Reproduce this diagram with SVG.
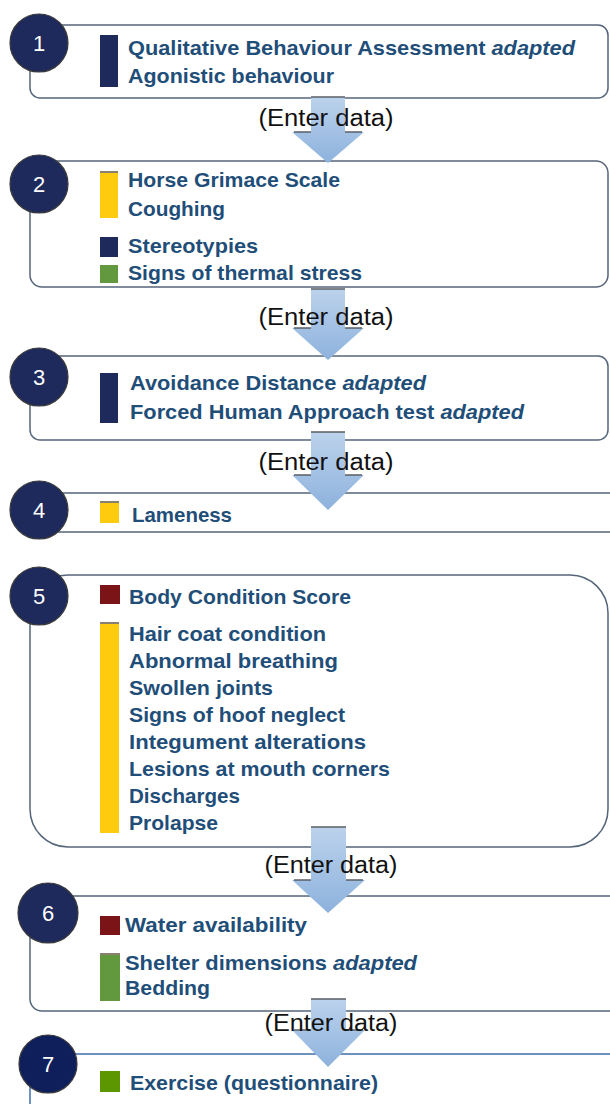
<svg xmlns="http://www.w3.org/2000/svg" width="610" height="1104" viewBox="0 0 610 1104">
<defs>
<linearGradient id="ag" x1="0" y1="0" x2="0" y2="1">
<stop offset="0" stop-color="#bcd2ec"/>
<stop offset="1" stop-color="#8db2dd"/>
</linearGradient>
<style>
.box{fill:#fff;stroke:#56667a;stroke-width:1.5}
.circ{fill:#1e2a5c;stroke:#3a3a3a;stroke-width:1.2}
.num{font-family:"Liberation Sans",Arial,sans-serif;font-size:22px;fill:#fff;text-anchor:middle}
.t{font-family:"Liberation Sans",Arial,sans-serif;font-size:21px;font-weight:bold;fill:#1f4e79}
.it{font-style:italic}
.ed{font-family:"Liberation Sans",Arial,sans-serif;font-size:23px;fill:#111;text-anchor:middle}
.arr{fill:url(#ag)}
.edge{fill:none;stroke:#5a5f66;stroke-width:1.5}
.navy{fill:#1e2a5c}
.yel{fill:#fecb0f}
.grn{fill:#62993f}
.mar{fill:#7b1417}
.olv{fill:#5c9600}
.cap{fill:#8a8070}
</style>
</defs>

<g id="node1">
<rect class="box" x="30" y="25" width="578" height="73" rx="10"/>
<circle class="circ" cx="39" cy="43" r="29"/>
<text class="num" x="39" y="51">1</text>
<rect class="navy" x="100" y="35" width="18" height="52"/>
<text class="t" x="128" y="55" textLength="447" lengthAdjust="spacingAndGlyphs">Qualitative Behaviour Assessment <tspan class="it">adapted</tspan></text>
<text class="t" x="128" y="83" textLength="206" lengthAdjust="spacingAndGlyphs">Agonistic behaviour</text>
</g>

<g id="node2">
<rect class="box" x="30" y="161" width="578" height="126" rx="12"/>
<circle class="circ" cx="39" cy="184" r="29"/>
<text class="num" x="39" y="192">2</text>
<rect class="yel" x="100" y="171" width="18" height="47"/>
<rect class="cap" x="100" y="171" width="18" height="2"/>
<rect class="navy" x="100" y="237" width="18" height="20"/>
<rect class="grn" x="100" y="265" width="18" height="18"/>
<text class="t" x="128" y="187" textLength="212" lengthAdjust="spacingAndGlyphs">Horse Grimace Scale</text>
<text class="t" x="128" y="216" textLength="97" lengthAdjust="spacingAndGlyphs">Coughing</text>
<text class="t" x="128" y="253" textLength="130" lengthAdjust="spacingAndGlyphs">Stereotypies</text>
<text class="t" x="128" y="280" textLength="234" lengthAdjust="spacingAndGlyphs">Signs of thermal stress</text>
</g>

<g id="node3">
<rect class="box" x="30" y="356" width="578" height="84" rx="10"/>
<circle class="circ" cx="39" cy="377" r="29"/>
<text class="num" x="39" y="385">3</text>
<rect class="navy" x="100" y="373" width="18" height="50"/>
<text class="t" x="130" y="390" textLength="296" lengthAdjust="spacingAndGlyphs">Avoidance Distance <tspan class="it">adapted</tspan></text>
<text class="t" x="130" y="419" textLength="394" lengthAdjust="spacingAndGlyphs">Forced Human Approach test <tspan class="it">adapted</tspan></text>
</g>

<g id="node4">
<rect class="box" x="30" y="493" width="600" height="39" rx="8"/>
<circle class="circ" cx="39" cy="510" r="29"/>
<text class="num" x="39" y="518">4</text>
<rect class="yel" x="100" y="501" width="19" height="22"/>
<rect class="cap" x="100" y="501" width="19" height="2"/>
<text class="t" x="132" y="522" textLength="100" lengthAdjust="spacingAndGlyphs">Lameness</text>
</g>

<g id="node5">
<rect class="box" x="30" y="575" width="578" height="272" rx="38"/>
<circle class="circ" cx="39" cy="596" r="29"/>
<text class="num" x="39" y="604">5</text>
<rect class="mar" x="100" y="585" width="20" height="19"/>
<rect class="yel" x="100" y="622" width="19" height="211"/>
<rect class="cap" x="100" y="622" width="19" height="2"/>
<text class="t" x="129" y="604" textLength="222" lengthAdjust="spacingAndGlyphs">Body Condition Score</text>
<text class="t" x="129" y="641" textLength="197" lengthAdjust="spacingAndGlyphs">Hair coat condition</text>
<text class="t" x="129" y="668" textLength="209" lengthAdjust="spacingAndGlyphs">Abnormal breathing</text>
<text class="t" x="129" y="695" textLength="144" lengthAdjust="spacingAndGlyphs">Swollen joints</text>
<text class="t" x="129" y="722" textLength="216" lengthAdjust="spacingAndGlyphs">Signs of hoof neglect</text>
<text class="t" x="129" y="749" textLength="237" lengthAdjust="spacingAndGlyphs">Integument alterations</text>
<text class="t" x="129" y="776" textLength="261" lengthAdjust="spacingAndGlyphs">Lesions at mouth corners</text>
<text class="t" x="129" y="803" textLength="111" lengthAdjust="spacingAndGlyphs">Discharges</text>
<text class="t" x="129" y="830" textLength="89" lengthAdjust="spacingAndGlyphs">Prolapse</text>
</g>

<g id="node6">
<rect class="box" x="30" y="896" width="600" height="115" rx="12"/>
<circle class="circ" cx="48" cy="913" r="30"/>
<text class="num" x="48" y="921">6</text>
<rect class="mar" x="100" y="916" width="20" height="19"/>
<rect class="grn" x="100" y="953" width="20" height="48"/>
<rect class="cap" x="100" y="953" width="20" height="2"/>
<text class="t" x="125" y="932" textLength="182" lengthAdjust="spacingAndGlyphs">Water availability</text>
<text class="t" x="125" y="970" textLength="292" lengthAdjust="spacingAndGlyphs">Shelter dimensions <tspan class="it">adapted</tspan></text>
<text class="t" x="125" y="995" textLength="85" lengthAdjust="spacingAndGlyphs">Bedding</text>
</g>

<g id="node7">
<rect class="box" x="30" y="1054" width="600" height="80" rx="12" style="stroke:#3f6fa8"/>
<circle class="circ" cx="48" cy="1064" r="29" style="fill:#0f1f5c"/>
<text class="num" x="48" y="1072">7</text>
<rect class="olv" x="100" y="1071" width="20" height="21"/>
<text class="t" x="130" y="1090" textLength="248" lengthAdjust="spacingAndGlyphs">Exercise (questionnaire)</text>
</g>

<g id="connectors">
<path class="arr" d="M311,97 H345 V132 H364 L328,163 L292,132 H311 Z"/>
<path class="edge" d="M311,97 H345 M294,132 H311 M345,132 H362"/>
<text class="ed" x="326" y="126" textLength="135" lengthAdjust="spacingAndGlyphs">(Enter data)</text>

<path class="arr" d="M311,289 H345 V328 H364 L328,360 L292,328 H311 Z"/>
<path class="edge" d="M311,289 H345 M294,328 H311 M345,328 H362"/>
<text class="ed" x="326" y="325" textLength="135" lengthAdjust="spacingAndGlyphs">(Enter data)</text>

<path class="arr" d="M311,432 H345 V475 H364 L328,510 L292,475 H311 Z"/>
<path class="edge" d="M311,432 H345 M294,475 H311 M345,475 H362"/>
<text class="ed" x="326" y="470" textLength="135" lengthAdjust="spacingAndGlyphs">(Enter data)</text>

<path class="arr" d="M311,827 H346 V880 H365 L328,913 L292,880 H311 Z"/>
<path class="edge" d="M311,827 H346 M294,880 H311 M346,880 H363"/>
<text class="ed" x="331" y="873" textLength="133" lengthAdjust="spacingAndGlyphs">(Enter data)</text>

<path class="arr" d="M311,999 H346 V1030 H365 L328,1067 L292,1030 H311 Z"/>
<path class="edge" d="M311,999 H346 M294,1030 H311 M346,1030 H363"/>
<text class="ed" x="331" y="1031" textLength="133" lengthAdjust="spacingAndGlyphs">(Enter data)</text>
</g>
</svg>
